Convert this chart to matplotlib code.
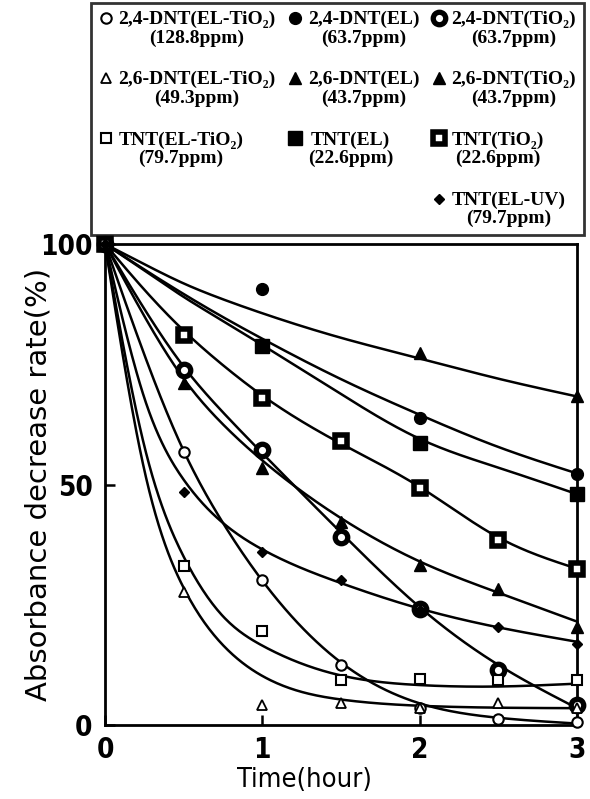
import numpy as np
import matplotlib
matplotlib.use("Agg")
import matplotlib.pyplot as plt
from matplotlib.legend_handler import HandlerLine2D
from matplotlib.lines import Line2D

# ---------------- data ----------------
t_pts = [0, 0.5, 1, 1.5, 2, 2.5, 3]
t_fit = [0, 0.25, 0.5, 0.75, 1, 1.5, 2, 2.5, 3]

labels = [
    "2,4-DNT(EL-TiO\u2082)\n(128.8ppm)",
    "2,4-DNT(EL)\n(63.7ppm)",
    "2,4-DNT(TiO\u2082)\n(63.7ppm)",
    "2,6-DNT(EL-TiO\u2082)\n(49.3ppm)",
    "2,6-DNT(EL)\n(43.7ppm)",
    "2,6-DNT(TiO\u2082)\n(43.7ppm)",
    "TNT(EL-TiO\u2082)\n(79.7ppm)",
    "TNT(EL)\n(22.6ppm)",
    "TNT(TiO\u2082)\n(22.6ppm)",
    "TNT(EL-UV)\n(79.7ppm)",
]

# measured points
t_dnt24_el_tio2 = t_pts
y_dnt24_el_tio2 = [100, 56.7, 30.2, 12.4, 3.6, 1.2, 0.7]
t_dnt24_el = [0, 1, 2, 3]
y_dnt24_el = [100, 90.7, 63.8, 52.2]
t_dnt24_tio2 = t_pts
y_dnt24_tio2 = [100, 73.8, 57.1, 39.1, 24.2, 11.4, 4.1]
t_dnt26_el_tio2 = t_pts
y_dnt26_el_tio2 = [100, 27.6, 4.1, 4.5, 3.6, 4.6, 3.5]
t_dnt26_el = [0, 2, 3]
y_dnt26_el = [100, 77.3, 68.3]
t_dnt26_tio2 = t_pts
y_dnt26_tio2 = [100, 71.1, 53.5, 42.1, 33.3, 28.3, 20.4]
t_tnt_el_tio2 = t_pts
y_tnt_el_tio2 = [100, 33.1, 19.5, 9.3, 9.5, 9.3, 9.3]
t_tnt_el = [0, 1, 2, 3]
y_tnt_el = [100, 78.7, 58.7, 48.0]
t_tnt_tio2 = t_pts
y_tnt_tio2 = [100, 81.0, 68.0, 59.0, 49.2, 38.4, 32.4]
t_tnt_el_uv = t_pts
y_tnt_el_uv = [100, 48.5, 36.0, 30.2, 24.0, 20.4, 16.9]

# fitted curves (values at t_fit)
f_dnt24_el_tio2 = [100, 77, 57, 42, 30, 13, 4.5, 1.5, 0.3]
f_dnt24_el = [100, 94.7, 89.6, 84.8, 80.3, 71.9, 64.5, 57.8, 52.3]
f_dnt24_tio2 = [100, 86.5, 74.5, 65, 56.5, 40, 24.5, 12.5, 3.5]
f_dnt26_el_tio2 = [100, 53, 28.5, 16.6, 10.2, 5.3, 4.0, 3.6, 3.5]
f_dnt26_el = [100, 95.8, 91.8, 88.5, 85.6, 80.5, 76.2, 72, 68.3]
f_dnt26_tio2 = [100, 85, 72, 62.5, 55, 43, 34, 27.5, 21.5]
f_tnt_el_tio2 = [100, 58, 35, 22.6, 16.5, 10.3, 8.3, 8.0, 8.6]
f_tnt_el = [100, 94.5, 89, 84, 79, 68.8, 59.5, 53.5, 48]
f_tnt_tio2 = [100, 90.5, 82, 74.8, 68.5, 58.5, 49.5, 39.0, 32.5]
f_tnt_el_uv = [100, 68, 51, 42, 36.5, 29.5, 24.2, 20.3, 17.3]

x_ticks = [0, 1, 2, 3]
y_ticks = [0, 50, 100]

# ---------------- helpers ----------------
def smooth(xk, yk, n=300):
    """Natural cubic spline, used only to draw a smooth curve through the read values."""
    xk = np.asarray(xk, float); yk = np.asarray(yk, float)
    N = len(xk); h = np.diff(xk)
    A = np.zeros((N, N)); b = np.zeros(N)
    A[0, 0] = 1; A[-1, -1] = 1
    for i in range(1, N - 1):
        A[i, i - 1] = h[i - 1]; A[i, i] = 2 * (h[i - 1] + h[i]); A[i, i + 1] = h[i]
        b[i] = 6 * ((yk[i + 1] - yk[i]) / h[i] - (yk[i] - yk[i - 1]) / h[i - 1])
    M = np.linalg.solve(A, b)
    xs = np.linspace(xk[0], xk[-1], n)
    idx = np.clip(np.searchsorted(xk, xs) - 1, 0, N - 2)
    x0 = xk[idx]; x1 = xk[idx + 1]; hh = h[idx]
    ys = (M[idx] * (x1 - xs) ** 3 / (6 * hh) + M[idx + 1] * (xs - x0) ** 3 / (6 * hh)
          + (yk[idx] / hh - M[idx] * hh / 6) * (x1 - xs)
          + (yk[idx + 1] / hh - M[idx + 1] * hh / 6) * (xs - x0))
    return xs, ys

class TopMarker(HandlerLine2D):
    def create_artists(self, legend, orig_handle, xdescent, ydescent,
                       width, height, fontsize, trans):
        arts = super().create_artists(legend, orig_handle, xdescent, ydescent,
                                      width, height, fontsize, trans)
        for a in arts:
            a.set_ydata(np.asarray(a.get_ydata(), float) + 0.55 * fontsize)
        return arts

# ---------------- figure ----------------
fig = plt.figure(figsize=(5.9, 7.99), dpi=100)
W, H = 590, 799
ax = fig.add_axes([105 / W, 1 - 725 / H, (577 - 105) / W, (725 - 244) / H])

series = [
    (t_dnt24_el_tio2, y_dnt24_el_tio2, f_dnt24_el_tio2, dict(marker='o', mfc='white', ms=7.5, mew=1.5)),
    (t_dnt24_el, y_dnt24_el, f_dnt24_el, dict(marker='o', mfc='black', ms=8.5, mew=1.0)),
    (t_dnt24_tio2, y_dnt24_tio2, f_dnt24_tio2, dict(marker='o', mfc='white', ms=9, mew=3.8)),
    (t_dnt26_el_tio2, y_dnt26_el_tio2, f_dnt26_el_tio2, dict(marker='^', mfc='white', ms=7.5, mew=1.3)),
    (t_dnt26_el, y_dnt26_el, f_dnt26_el, dict(marker='^', mfc='black', ms=8.5, mew=1.0)),
    (t_dnt26_tio2, y_dnt26_tio2, f_dnt26_tio2, dict(marker='^', mfc='black', ms=8.5, mew=1.0)),
    (t_tnt_el_tio2, y_tnt_el_tio2, f_tnt_el_tio2, dict(marker='s', mfc='white', ms=7.5, mew=1.5)),
    (t_tnt_el, y_tnt_el, f_tnt_el, dict(marker='s', mfc='black', ms=9.5, mew=1.0)),
    (t_tnt_tio2, y_tnt_tio2, f_tnt_tio2, dict(marker='s', mfc='white', ms=9, mew=4.0)),
    (t_tnt_el_uv, y_tnt_el_uv, f_tnt_el_uv, dict(marker='D', mfc='black', ms=5.5, mew=1.0)),
]

handles = []
for (tp, yp, fv, mk), lab in zip(series, labels):
    xs, ys = smooth(t_fit, fv)
    ax.plot(xs, ys, color='black', lw=1.8, zorder=2, clip_on=False)
    h, = ax.plot(tp, yp, ls='none', color='black', mec='black', zorder=3,
                 clip_on=False, label=lab, **mk)
    handles.append(h)

ax.set_xlim(0, 3)
ax.set_ylim(0, 100)
ax.set_xticks(x_ticks)
ax.set_yticks(y_ticks)
tick_font = dict(family='DejaVu Sans', stretch='condensed', weight='bold', size=20)
ax.set_xticklabels([str(v) for v in x_ticks], fontdict=tick_font)
ax.set_yticklabels([str(v) for v in y_ticks], fontdict=tick_font)
ax.tick_params(direction='in', length=7, width=1.8, pad=9)
ax.tick_params(axis='x', pad=8)
for sp in ax.spines.values():
    sp.set_linewidth(2.0)

ax.set_xlabel("Time(hour)", fontdict=dict(family='DejaVu Sans', stretch='condensed', size=19.5))
ax.xaxis.set_label_coords((304 - 105) / 472, -0.088)
ax.set_ylabel("Absorbance decrease rate(%)", fontdict=dict(family='DejaVu Sans', size=21))
ax.yaxis.set_label_coords(-0.112, 0.5)

# legend: 3 columns, padded so the last column holds TNT(EL-UV)
blank = Line2D([], [], ls='none', marker='None', label=' ')
order = [handles[0], handles[3], handles[6], blank,
         handles[1], handles[4], handles[7], blank,
         handles[2], handles[5], handles[8], handles[9]]
top = 1 - 3 / H
leg = fig.legend(handles=order, labels=[h.get_label() if h is not blank else '' for h in order],
                 ncols=3, loc='upper left',
                 bbox_to_anchor=(91 / W, top - 0.01, (584 - 91) / W, 0.01),
                 mode='expand', borderaxespad=0, frameon=True, fancybox=False,
                 edgecolor='black', handlelength=0.7, handletextpad=0.3,
                 columnspacing=0.5, labelspacing=1.25, borderpad=0.4,
                 prop=dict(family=['Liberation Serif', 'DejaVu Serif'], weight='bold', size=14),
                 handler_map={Line2D: TopMarker()})
leg.get_frame().set_linewidth(2.0)
for t in leg.get_texts():
    t.set_multialignment('center')
    t.set_linespacing(1.1)

fig.savefig("out.png", dpi=100)
